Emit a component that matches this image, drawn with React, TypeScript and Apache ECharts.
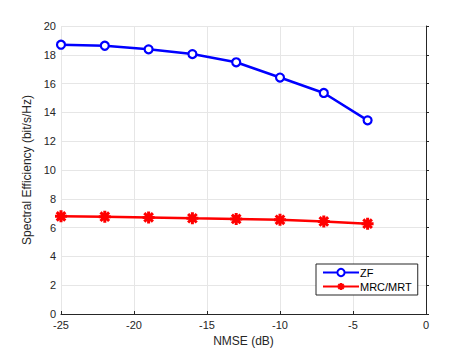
import React, { useEffect, useRef } from "react";
import * as echarts from "echarts";

const nmse = [-25, -22, -19, -16, -13, -10, -7, -4];
const zf = [18.7, 18.63, 18.38, 18.05, 17.48, 16.42, 15.35, 13.45];
const mrc = [6.78, 6.76, 6.71, 6.65, 6.6, 6.54, 6.43, 6.27];
const seriesNames = ["ZF", "MRC/MRT"];

const FONT = "Liberation Sans, Arial, Helvetica, sans-serif";
const STAR =
  "path://M0,-6L0,6M-6,0L6,0M-4.3,-4.3L4.3,4.3M-4.3,4.3L4.3,-4.3";

export default function App() {
  const ref = useRef<HTMLDivElement>(null);
  useEffect(() => {
    if (!ref.current) return;
    const chart = echarts.init(ref.current, undefined, { renderer: "svg" });
    chart.setOption({
      animation: false,
      backgroundColor: "#ffffff",
      textStyle: { fontFamily: FONT },
      grid: { left: 61, right: 45, top: 26, bottom: 39, containLabel: false },
      legend: {
        orient: "vertical",
        left: 316,
        top: 264,
        width: 95,
        padding: [3, 6, 3, 6],
        itemGap: 3,
        itemWidth: 36,
        itemHeight: 9,
        borderColor: "#262626",
        borderWidth: 1,
        backgroundColor: "#ffffff",
        textStyle: { fontSize: 11, color: "#000", fontFamily: FONT, padding: [0, 0, 0, -4] },
        data: seriesNames,
      },
      xAxis: {
        type: "value",
        min: -25,
        max: 0,
        interval: 5,
        name: "NMSE (dB)",
        nameLocation: "middle",
        nameGap: 16,
        nameTextStyle: { fontSize: 12, color: "#262626", fontFamily: FONT },
        axisLine: { show: true, lineStyle: { color: "#262626", width: 1 } },
        axisTick: { show: true, inside: true, length: 3, lineStyle: { color: "#262626" } },
        axisLabel: { fontSize: 11, color: "#262626", margin: 5, fontFamily: FONT },
        splitLine: { show: true, lineStyle: { color: "#e6e6e6", width: 1 } },
      },
      yAxis: {
        type: "value",
        min: 0,
        max: 20,
        interval: 2,
        name: "Spectral Efficiency (bit/s/Hz)",
        nameLocation: "middle",
        nameGap: 18,
        nameTextStyle: { fontSize: 12, color: "#262626", fontFamily: FONT },
        axisLine: { show: true, lineStyle: { color: "#262626", width: 1 } },
        axisTick: { show: true, inside: true, length: 3, lineStyle: { color: "#262626" } },
        axisLabel: { fontSize: 11, color: "#262626", margin: 5, fontFamily: FONT },
        splitLine: { show: true, lineStyle: { color: "#e6e6e6", width: 1 } },
      },
      series: [
        {
          name: seriesNames[0],
          type: "line",
          data: nmse.map((x, i) => [x, zf[i]]),
          symbol: "circle",
          symbolSize: 8,
          showAllSymbol: true,
          lineStyle: { color: "#0000ff", width: 2.5 },
          itemStyle: { color: "#ffffff", borderColor: "#0000ff", borderWidth: 2.2 },
        },
        {
          name: seriesNames[1],
          type: "line",
          data: nmse.map((x, i) => [x, mrc[i]]),
          symbol: STAR,
          symbolSize: 12,
          showAllSymbol: true,
          lineStyle: { color: "#ff0000", width: 2.5 },
          itemStyle: { color: "#ff0000", borderColor: "#ff0000", borderWidth: 3 },
        },
      ],
    });
    return () => chart.dispose();
  }, []);
  return <div ref={ref} style={{ width: 471, height: 353, position: "absolute", left: 0, top: 0 }} />;
}
